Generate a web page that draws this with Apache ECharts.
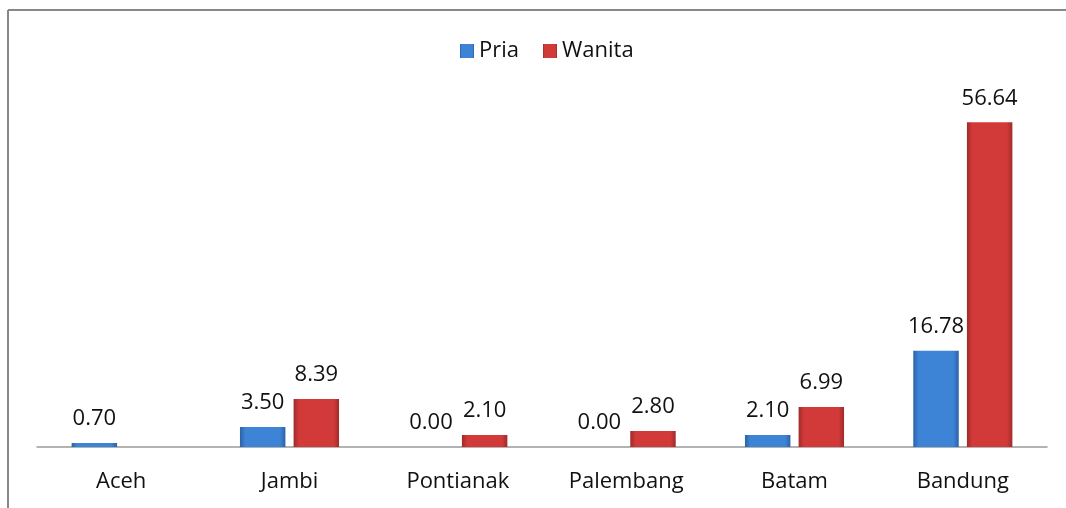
<!DOCTYPE html>
<html>
<head>
<meta charset="utf-8">
<script src="https://cdn.jsdelivr.net/npm/echarts@6/dist/echarts.min.js"></script>
<style>
  html, body { margin: 0; padding: 0; background: #fff; }
  #chart { width: 1066px; height: 508px; }
</style>
</head>
<body>
<div id="chart"></div>
<script>
// data
const cities = ['Aceh', 'Jambi', 'Pontianak', 'Palembang', 'Batam', 'Bandung'];
const pria = [0.70, 3.50, 0.00, 0.00, 2.10, 16.78];
const wanita = [null, 8.39, 2.10, 2.80, 6.99, 56.64];

const FONT = '"Open Sans", sans-serif';

// bar fill: darker edges, lighter middle (like the office 3D style)
function barFill(edge, mid) {
  return new echarts.graphic.LinearGradient(0, 0, 1, 0, [
    { offset: 0, color: edge },
    { offset: 0.12, color: mid },
    { offset: 0.88, color: mid },
    { offset: 1, color: edge }
  ]);
}

const myChart = echarts.init(document.getElementById('chart'));
const option = {
  animation: false,
  grid: {
    left: 37,
    right: 19,
    top: 103,
    bottom: 61
  },
  legend: {
    top: 35,
    left: 455,
    itemWidth: 14,
    itemHeight: 14,
    itemGap: 24,
    icon: 'rect',
    textStyle: { fontFamily: FONT, fontSize: 22, color: '#111' },
    data: ['Pria', 'Wanita']
  },
  xAxis: {
    type: 'category',
    data: cities,
    axisLine: { lineStyle: { color: '#9a9a9a', width: 1.5 } },
    axisTick: { show: false },
    axisLabel: { fontFamily: FONT, fontSize: 22, color: '#111', margin: 24 }
  },
  yAxis: {
    type: 'value',
    min: 0,
    max: 60,
    show: false,
    splitLine: { show: false }
  },
  series: [
    {
      name: 'Pria',
      type: 'bar',
      data: pria,
      barWidth: '27%',
      barGap: '18%',
      itemStyle: { color: barFill('#2c62a8', '#3d84d6') },
      label: {
        show: true,
        position: 'top',
        distance: 13,
        fontFamily: FONT,
        fontSize: 22,
        color: '#111',
        formatter: p => p.value.toFixed(2)
      }
    },
    {
      name: 'Wanita',
      type: 'bar',
      data: wanita,
      barWidth: '27%',
      itemStyle: { color: barFill('#a02a2a', '#d23a39') },
      label: {
        show: true,
        position: 'top',
        distance: 13,
        fontFamily: FONT,
        fontSize: 22,
        color: '#111',
        formatter: p => p.value == null ? '' : p.value.toFixed(2)
      }
    }
  ],
  graphic: [
    { type: 'line', shape: { x1: 8, y1: 10, x2: 1066, y2: 10 }, style: { stroke: '#888', lineWidth: 2 } },
    { type: 'line', shape: { x1: 8, y1: 10, x2: 8, y2: 508 }, style: { stroke: '#888', lineWidth: 2 } }
  ]
};
myChart.setOption(option);
window.addEventListener('resize', function () {
  myChart.resize();
});
</script>
</body>
</html>
